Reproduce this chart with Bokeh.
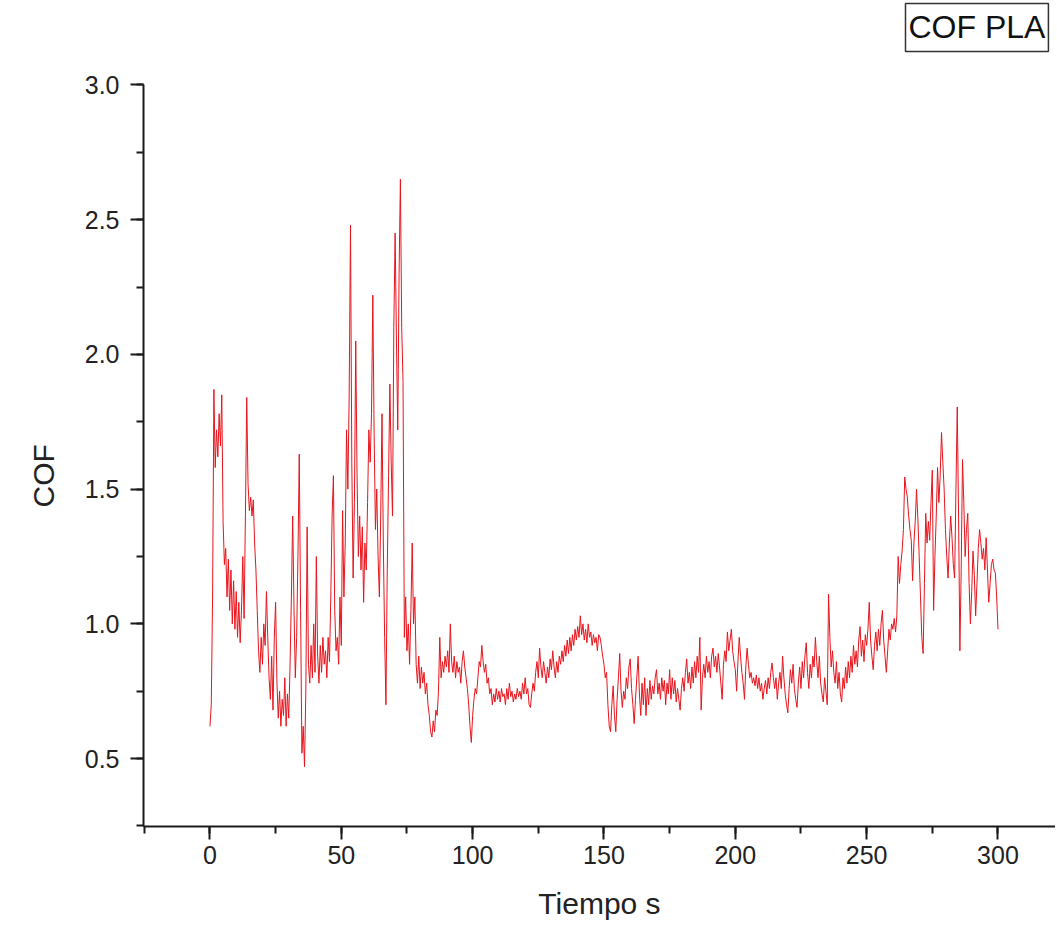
from bokeh.plotting import figure
from bokeh.models import SingleIntervalTicker, Range1d, Label, Title, ColumnDataSource, PrintfTickFormatter
from bokeh.embed import file_html
from bokeh.resources import INLINE

# time step of the series (seconds)
dt = 0.5
cof = [
    0.62, 0.70, 1.10, 1.87, 1.58, 1.72, 1.62, 1.78, 1.66, 1.85, 1.38, 1.22, 1.28, 1.10, 1.24, 1.05, 1.20, 1.00, 1.16, 0.98,
    1.12, 0.95, 1.08, 0.93, 1.05, 1.25, 1.02, 1.40, 1.84, 1.52, 1.42, 1.47, 1.40, 1.46, 1.30, 1.20, 1.05, 0.90, 0.82, 0.95,
    0.85, 1.00, 0.92, 1.12, 0.95, 0.80, 0.72, 0.88, 0.68, 0.95, 1.08, 0.78, 0.65, 0.75, 0.62, 0.72, 0.66, 0.80, 0.62, 0.74,
    0.65, 0.85, 1.10, 1.40, 1.05, 0.80, 0.95, 1.25, 1.63, 1.05, 0.52, 0.62, 0.47, 0.75, 1.36, 0.85, 0.78, 0.92, 0.80, 1.00,
    0.82, 1.25, 0.88, 0.78, 0.92, 0.82, 0.95, 0.85, 0.90, 0.80, 0.95, 0.86, 1.10, 1.40, 1.55, 1.05, 0.90, 0.95, 0.85, 1.10,
    0.92, 1.42, 1.10, 1.30, 1.72, 1.50, 1.85, 2.48, 1.60, 1.17, 1.45, 2.05, 1.55, 1.25, 1.40, 1.20, 1.36, 1.08, 1.30, 1.20,
    1.45, 1.72, 1.60, 1.78, 2.22, 1.70, 1.35, 1.50, 1.25, 1.10, 1.40, 1.78, 1.30, 0.95, 0.70, 1.20, 1.55, 1.89, 1.60, 1.40,
    2.10, 2.45, 2.05, 1.72, 2.30, 2.65, 2.10, 1.90, 0.95, 1.10, 0.90, 1.00, 0.85, 1.05, 1.30, 1.00, 1.10, 0.85, 0.78, 0.88,
    0.76, 0.84, 0.78, 0.82, 0.74, 0.78, 0.70, 0.66, 0.60, 0.58, 0.64, 0.60, 0.68, 0.66, 0.75, 0.95, 0.80, 0.86, 0.82, 0.88,
    0.84, 0.90, 0.82, 1.00, 0.86, 0.82, 0.88, 0.80, 0.86, 0.82, 0.84, 0.78, 0.86, 0.90, 0.84, 0.80, 0.76, 0.70, 0.62, 0.56,
    0.66, 0.72, 0.76, 0.74, 0.80, 0.86, 0.84, 0.92, 0.86, 0.82, 0.85, 0.78, 0.80, 0.74, 0.76, 0.70, 0.74, 0.71, 0.76, 0.72,
    0.75, 0.71, 0.76, 0.73, 0.74, 0.70, 0.76, 0.72, 0.78, 0.73, 0.75, 0.71, 0.74, 0.72, 0.76, 0.73, 0.75, 0.72, 0.78, 0.74,
    0.80, 0.74, 0.76, 0.70, 0.69, 0.74, 0.78, 0.75, 0.82, 0.86, 0.80, 0.91, 0.84, 0.80, 0.86, 0.82, 0.78, 0.84, 0.80, 0.87,
    0.83, 0.90, 0.84, 0.80, 0.86, 0.82, 0.88, 0.85, 0.90, 0.86, 0.92, 0.88, 0.94, 0.89, 0.95, 0.90, 0.96, 0.92, 0.98, 0.94,
    0.99, 0.95, 1.03, 0.96, 1.00, 0.94, 0.98, 0.93, 1.00, 0.95, 0.97, 0.92, 0.96, 0.93, 0.95, 0.90, 0.96, 0.95, 0.92, 0.88,
    0.85, 0.80, 0.82, 0.70, 0.62, 0.60, 0.70, 0.77, 0.66, 0.60, 0.72, 0.80, 0.89, 0.75, 0.69, 0.75, 0.72, 0.80, 0.76, 0.84,
    0.87, 0.76, 0.70, 0.63, 0.72, 0.80, 0.88, 0.74, 0.66, 0.78, 0.70, 0.80, 0.66, 0.76, 0.70, 0.79, 0.72, 0.77, 0.74, 0.80,
    0.83, 0.74, 0.78, 0.72, 0.80, 0.75, 0.79, 0.70, 0.78, 0.74, 0.83, 0.72, 0.80, 0.74, 0.79, 0.71, 0.76, 0.72, 0.68, 0.76,
    0.80, 0.75, 0.82, 0.87, 0.78, 0.82, 0.76, 0.84, 0.78, 0.86, 0.80, 0.88, 0.82, 0.95, 0.68, 0.80, 0.85, 0.80, 0.88, 0.82,
    0.86, 0.80, 0.88, 0.91, 0.84, 0.88, 0.82, 0.89, 0.84, 0.78, 0.72, 0.85, 0.90, 0.86, 0.97, 0.90, 0.94, 0.98, 0.90, 0.86,
    0.83, 0.75, 0.86, 0.95, 0.88, 0.82, 0.78, 0.72, 0.84, 0.91, 0.85, 0.80, 0.82, 0.78, 0.80, 0.77, 0.81, 0.76, 0.80, 0.75,
    0.78, 0.72, 0.76, 0.79, 0.74, 0.80, 0.76, 0.82, 0.855, 0.80, 0.76, 0.80, 0.72, 0.78, 0.82, 0.76, 0.88, 0.80, 0.74, 0.70,
    0.67, 0.76, 0.83, 0.78, 0.85, 0.76, 0.72, 0.69, 0.78, 0.84, 0.76, 0.86, 0.80, 0.88, 0.93, 0.82, 0.76, 0.85, 0.80, 0.88,
    0.84, 0.95, 0.86, 0.80, 0.88, 0.78, 0.74, 0.71, 0.80, 0.75, 0.70, 1.11, 0.95, 0.84, 0.90, 0.82, 0.78, 0.86, 0.76, 0.82,
    0.74, 0.71, 0.80, 0.76, 0.84, 0.78, 0.86, 0.80, 0.88, 0.82, 0.92, 0.85, 0.90, 0.84, 0.94, 0.99, 0.88, 0.94, 0.86, 0.96,
    0.92, 0.98, 1.08, 0.94, 0.88, 0.83, 0.92, 0.97, 0.90, 0.98, 0.92, 1.00, 1.05, 0.94, 0.88, 0.82, 0.90, 0.98, 0.94, 1.00,
    0.98, 1.02, 0.97, 1.03, 1.25, 1.15, 1.22, 1.27, 1.35, 1.545, 1.50, 1.47, 1.40, 1.35, 1.31, 1.16, 1.30, 1.38, 1.50, 1.39,
    1.25, 1.10, 0.95, 0.89, 1.15, 1.41, 1.30, 1.38, 1.31, 1.45, 1.57, 1.05, 1.25, 1.40, 1.58, 1.45, 1.55, 1.71, 1.60, 1.50,
    1.35, 1.25, 1.17, 1.30, 1.40, 1.32, 1.22, 1.17, 1.50, 1.805, 1.40, 0.90, 1.20, 1.61, 1.45, 1.25, 1.35, 1.41, 1.15, 1.00,
    1.12, 1.27, 1.18, 1.03, 1.15, 1.28, 1.35, 1.30, 1.24, 1.28, 1.20, 1.32, 1.20, 1.08, 1.15, 1.22, 1.24, 1.20, 1.19, 1.10,
    0.98,
]
tiempo = [i * dt for i in range(len(cof))]

title_text = "COF PLA"
x_label = "Tiempo s"
y_label = "COF"

FONT = "Liberation Sans"

p = figure(width=1055, height=924, output_backend="svg", toolbar_location=None,
           x_range=Range1d(-25.3, 321.9), y_range=Range1d(0.248, 3.3135),
           min_border_left=143, min_border_right=0, min_border_top=0, min_border_bottom=98)
p.outline_line_color = None
p.grid.visible = False
p.background_fill_color = "white"
p.border_fill_color = "white"

src = ColumnDataSource(dict(t=tiempo, c=cof))
p.line("t", "c", source=src, line_color="#e8141c", line_width=1)

p.xaxis.ticker = SingleIntervalTicker(interval=50, num_minor_ticks=2)
p.yaxis.ticker = SingleIntervalTicker(interval=0.5, num_minor_ticks=2)
p.yaxis.bounds = (0.248, 3.0)

for ax in (p.xaxis[0], p.yaxis[0]):
    ax.axis_line_width = 2
    ax.axis_line_color = "#1a1a1a"
    ax.major_tick_line_width = 2
    ax.minor_tick_line_width = 2
    ax.major_tick_line_color = "#1a1a1a"
    ax.minor_tick_line_color = "#1a1a1a"
    ax.major_tick_in = 0
    ax.major_tick_out = 13
    ax.minor_tick_in = 0
    ax.minor_tick_out = 7
    ax.major_label_text_font = FONT
    ax.major_label_text_font_size = "25px"
    ax.major_label_text_color = "#222222"
    ax.axis_label_text_font = FONT
    ax.axis_label_text_font_size = "30px"
    ax.axis_label_text_font_style = "normal"
    ax.axis_label_text_color = "#222222"

p.yaxis.formatter = PrintfTickFormatter(format="%.1f")
p.xaxis.axis_label = x_label
p.xaxis.major_label_standoff = 6
p.yaxis.major_label_standoff = 11
p.xaxis.axis_label_standoff = 20

# y axis title, placed along the lower part of the left side like the reference
ytitle = Title(text=y_label, align="left", offset=319, vertical_align="top", standoff=40,
               text_font=FONT, text_font_size="30px", text_font_style="normal",
               text_color="#222222")
p.add_layout(ytitle, "left")

lab = Label(x=292.0, y=3.2135, text=title_text, text_font=FONT, text_font_size="32px",
            text_align="center", text_baseline="middle", text_color="#111111",
            border_line_color="#333333", border_line_width=1.5,
            background_fill_color="white", padding=(3, 6))
p.add_layout(lab)

open("out.html", "w").write(file_html(p, INLINE))
